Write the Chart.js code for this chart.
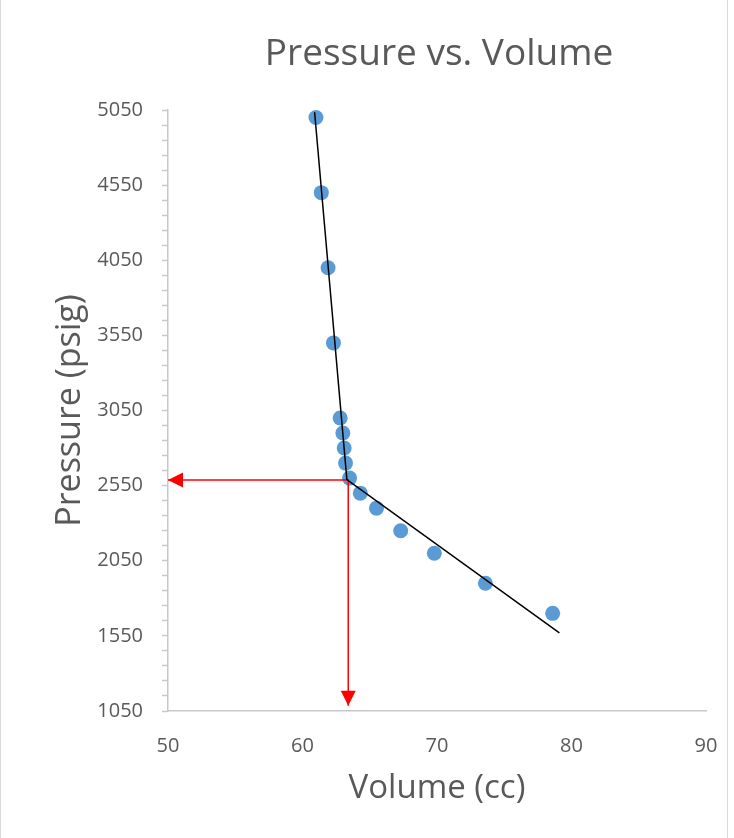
<!DOCTYPE html>
<html>
<head>
<meta charset="utf-8">
<script src="https://cdn.jsdelivr.net/npm/chart.js@4/dist/chart.umd.min.js"></script>
<style>
  html, body { margin: 0; padding: 0; background: #ffffff; }
  #wrap { width: 734px; height: 838px; position: relative; }
  canvas { display: block; }
</style>
</head>
<body>
<div id="wrap"><canvas id="c" width="734" height="838"></canvas></div>
<script>
// Measured points: cell volume (cc) against gauge pressure (psig)
const volume   = [61.0, 61.4, 61.9, 62.3, 62.8, 63.0, 63.1, 63.2, 63.5, 64.3, 65.5, 67.3, 69.8, 73.6, 78.6];
const pressure = [5000, 4500, 4000, 3500, 3000, 2900, 2800, 2700, 2600, 2500, 2400, 2250, 2100, 1900, 1700];

// Two straight-line fits meeting at the break point
const trendVolume   = [60.9, 63.3, 79.1];
const trendPressure = [5035, 2590, 1570];

// Read-off arrows from the break point to both axes
const arrowVolume   = [50, 63.4, 63.4];
const arrowPressure = [2588, 2588, 1085];

// Axis ticks
const xTicks      = [50, 60, 70, 80, 90];
const yLabels     = [1050, 1550, 2050, 2550, 3050, 3550, 4050, 4550, 5050];
const yMinorStep  = 100;

const textColor = '#595959';
const axisColor = '#c8c8c8';
Chart.defaults.font.family = "'Open Sans', sans-serif";

const toXY = (xs, ys) => xs.map((x, i) => ({ x, y: ys[i] }));

// Chart title centred over the plotting area
const titlePlugin = {
  id: 'centredTitle',
  afterDraw(chart) {
    const { ctx, chartArea } = chart;
    ctx.save();
    ctx.fillStyle = textColor;
    ctx.font = "37px 'Open Sans', sans-serif";
    ctx.textAlign = 'center';
    ctx.textBaseline = 'alphabetic';
    ctx.fillText('Pressure vs. Volume', (chartArea.left + chartArea.right) / 2 + 2, 65);
    ctx.restore();
  }
};

// Frame lines at the sides of the chart
const framePlugin = {
  id: 'frame',
  beforeDraw(chart) {
    const { ctx, height } = chart;
    ctx.save();
    ctx.strokeStyle = '#d9d9d9';
    ctx.lineWidth = 1;
    ctx.beginPath();
    ctx.moveTo(0.5, 0); ctx.lineTo(0.5, height);
    ctx.moveTo(727.5, 0); ctx.lineTo(727.5, height);
    ctx.stroke();
    ctx.restore();
  }
};

// Filled arrow heads at both ends of the read-off line
const arrowHeadPlugin = {
  id: 'arrowHeads',
  afterDatasetsDraw(chart) {
    const idx = chart.data.datasets.findIndex(d => d.label === 'readoff');
    const pts = chart.getDatasetMeta(idx).data;
    if (pts.length < 2) return;
    const { ctx } = chart;
    const head = (tip, from) => {
      const a = Math.atan2(tip.y - from.y, tip.x - from.x);
      const len = 15, half = 7.5;
      const bx = tip.x - len * Math.cos(a), by = tip.y - len * Math.sin(a);
      ctx.beginPath();
      ctx.moveTo(tip.x, tip.y);
      ctx.lineTo(bx + half * Math.sin(a), by - half * Math.cos(a));
      ctx.lineTo(bx - half * Math.sin(a), by + half * Math.cos(a));
      ctx.closePath();
      ctx.fill();
    };
    ctx.save();
    ctx.fillStyle = '#ff0000';
    head(pts[0], pts[1]);
    head(pts[pts.length - 1], pts[pts.length - 2]);
    ctx.restore();
  }
};

new Chart(document.getElementById('c'), {
  type: 'scatter',
  data: {
    datasets: [
      {
        label: 'trend',
        data: toXY(trendVolume, trendPressure),
        showLine: true,
        borderColor: '#000000',
        borderWidth: 1.5,
        pointRadius: 0,
        order: 1
      },
      {
        label: 'readoff',
        data: toXY(arrowVolume, arrowPressure),
        showLine: true,
        borderColor: '#ff0000',
        borderWidth: 1.5,
        pointRadius: 0,
        order: 2
      },
      {
        label: 'measured',
        data: toXY(volume, pressure),
        backgroundColor: '#5b9bd5',
        borderColor: '#5b9bd5',
        pointRadius: 7.5,
        pointBorderWidth: 0,
        order: 3
      }
    ]
  },
  options: {
    responsive: false,
    animation: false,
    devicePixelRatio: 1,
    layout: { padding: { top: 110, right: 28, bottom: 0, left: 0 } },
    plugins: { legend: { display: false }, tooltip: { enabled: false }, title: { display: false } },
    scales: {
      x: {
        type: 'linear',
        min: xTicks[0],
        max: xTicks[xTicks.length - 1],
        afterBuildTicks: s => { s.ticks = xTicks.map(v => ({ value: v })); },
        afterFit: s => { s.height = 127; s.paddingLeft = 0; s.paddingRight = 0; },
        grid: { display: true, drawOnChartArea: false, drawTicks: false },
        border: { display: true, color: axisColor, width: 1.5 },
        ticks: { color: textColor, font: { size: 20 }, padding: 23, maxRotation: 0 },
        title: { display: true, text: 'Volume (cc)', color: textColor, font: { size: 33 }, padding: { top: 0, bottom: 30 } }
      },
      y: {
        type: 'linear',
        min: yLabels[0],
        max: yLabels[yLabels.length - 1],
        afterBuildTicks: s => {
          const t = [];
          for (let v = yLabels[0]; v <= yLabels[yLabels.length - 1]; v += yMinorStep) t.push({ value: v });
          s.ticks = t;
        },
        afterFit: s => { s.width = 168; },
        grid: { display: true, drawOnChartArea: false, drawTicks: true, tickLength: 6, tickColor: axisColor, tickWidth: 1.5 },
        border: { display: true, color: axisColor, width: 1.5 },
        ticks: {
          color: textColor,
          font: { size: 20 },
          padding: 19,
          autoSkip: false,
          callback: v => (yLabels.includes(v) ? String(v) : '')
        },
        title: { display: true, text: 'Pressure (psig)', color: textColor, font: { size: 34 }, padding: { top: 50, bottom: 0 } }
      }
    }
  },
  plugins: [framePlugin, titlePlugin, arrowHeadPlugin]
});
</script>
</body>
</html>
